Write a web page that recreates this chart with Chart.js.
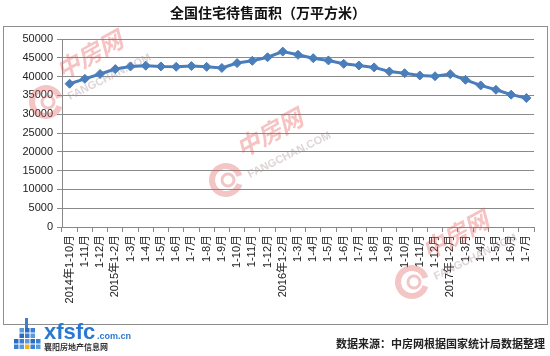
<!DOCTYPE html>
<html>
<head>
<meta charset="utf-8">
<script src="https://cdn.jsdelivr.net/npm/chart.js@4/dist/chart.umd.min.js"></script>
<style>
html,body{margin:0;padding:0;background:#fff;}
#wrap{position:relative;width:550px;height:356px;}
</style>
</head>
<body>
<div id="wrap"><canvas id="c" width="550" height="356"></canvas></div>
<script>
const TITLE = '全国住宅待售面积（万平方米）';
const SOURCE = '数据来源：中房网根据国家统计局数据整理';
const categories = [
  '2014年1-10月','1-11月','1-12月',
  '2015年1-2月','1-3月','1-4月','1-5月','1-6月','1-7月','1-8月','1-9月','1-10月','1-11月','1-12月',
  '2016年1-2月','1-3月','1-4月','1-5月','1-6月','1-7月','1-8月','1-9月','1-10月','1-11月','1-12月',
  '2017年1-2月','1-3月','1-4月','1-5月','1-6月','1-7月'
];
const unsoldArea = [
  38100, 39400, 40700,
  42000, 42700, 42900, 42700, 42600, 42800, 42600, 42300, 43600, 44200, 45150,
  46650, 45800, 44900, 44300, 43400, 42950, 42450, 41350, 40900, 40300, 40100,
  40650, 39150, 37650, 36500, 35200, 34300
];
const yMin = 0, yMax = 50000, yStep = 5000;

function watermark(ctx, cx, cy) {
  ctx.save();
  ctx.strokeStyle = 'rgba(222,90,90,0.35)';
  ctx.lineWidth = 6;
  ctx.beginPath(); ctx.arc(cx, cy, 14, 0.3, Math.PI * 2 - 0.3); ctx.stroke();
  ctx.lineWidth = 3;
  ctx.beginPath(); ctx.arc(cx + 2, cy, 6, 0, Math.PI * 2); ctx.stroke();
  ctx.translate(cx + 16, cy - 22);
  ctx.rotate(-0.5);
  ctx.fillStyle = 'rgba(228,70,70,0.33)';
  ctx.font = 'italic bold 24px "Noto Sans CJK SC"';
  ctx.textBaseline = 'alphabetic';
  ctx.fillText('中房网', 0, 0);
  ctx.restore();
  ctx.save();
  ctx.translate(cx + 24, cy - 2);
  ctx.rotate(-0.46);
  ctx.fillStyle = 'rgba(170,150,150,0.4)';
  ctx.font = 'bold 11px "Liberation Sans"';
  ctx.fillText('FANGCHAN.COM', 0, 0);
  ctx.restore();
}

const deco = {
  id: 'deco',
  beforeDraw(chart) {
    const c = chart.ctx;
    c.save();
    c.fillStyle = '#fff';
    c.fillRect(0, 0, chart.width, chart.height);
    c.strokeStyle = '#8e8e8e';
    c.lineWidth = 1;
    c.strokeRect(3.5, 26.5, 544, 298);
    c.fillStyle = '#111';
    c.font = 'bold 14px "Noto Sans CJK SC"';
    c.textAlign = 'center';
    c.textBaseline = 'middle';
    c.fillText(TITLE, 268, 13);
    c.font = 'bold 11px "Noto Sans CJK SC"';
    c.textAlign = 'right';
    c.fillStyle = '#222';
    c.fillText(SOURCE, 545, 344);
    const cols = ['#3b7fd4','#5a9be0','#2c6cc0'];
    for (let i = 0; i < 5; i++) {
      for (let j = 0; j < 4; j++) {
        if (j < 2 && (i === 0 || i === 4)) continue;
        c.fillStyle = (i === 2 && j === 3) ? '#f2b21b' : cols[(i + j) % 3];
        c.fillRect(14 + i * 5.5, 328 + j * 5.5, 4.5, 4.5);
      }
    }
    c.fillStyle = '#3b7fd4';
    c.fillRect(25, 318, 3, 10);
    c.textAlign = 'left';
    c.textBaseline = 'alphabetic';
    c.fillStyle = '#2a78d2';
    c.font = 'bold 22px "Liberation Sans"';
    c.fillText('xfsfc', 44, 339);
    c.font = 'bold 9px "Liberation Sans"';
    c.fillText('.com.cn', 97, 339);
    c.fillStyle = '#333';
    c.font = 'bold 8px "Noto Sans CJK SC"';
    c.fillText('襄阳房地产信息网', 44, 350);
    c.restore();
  },
  beforeDatasetsDraw(chart) {
    const c = chart.ctx;
    watermark(c, 46, 102);
    watermark(c, 226, 180);
    watermark(c, 412, 282);
  }
};

new Chart(document.getElementById('c'), {
  type: 'line',
  data: {
    labels: categories,
    datasets: [{
      data: unsoldArea,
      borderColor: '#4a7ebb',
      backgroundColor: '#4a7ebb',
      borderWidth: 3,
      pointStyle: 'rectRot',
      pointRadius: 4.5,
      pointBorderWidth: 1,
      pointBorderColor: '#4a7ebb',
      pointBackgroundColor: '#4a7ebb',
      tension: 0,
      fill: false
    }]
  },
  options: {
    responsive: false,
    animation: false,
    devicePixelRatio: 1,
    layout: { padding: { top: 39, right: 16, left: 0, bottom: 0 } },
    plugins: { legend: { display: false }, title: { display: false }, tooltip: { enabled: false } },
    scales: {
      x: {
        type: 'category',
        offset: true,
        afterFit(s) { s.height = 129; },
        grid: { display: true, drawOnChartArea: false, drawTicks: true, tickLength: 5, offset: true, color: '#888' },
        border: { display: true, color: '#888', width: 1 },
        ticks: {
          autoSkip: false, minRotation: 90, maxRotation: 90, padding: 3,
          color: '#222', font: { size: 11, family: '"Liberation Sans", "Noto Sans CJK SC"' }
        }
      },
      y: {
        min: yMin, max: yMax,
        afterFit(s) { s.width = 62; },
        grid: { color: '#8a8a8a', lineWidth: 1, drawTicks: true, tickLength: 5 },
        border: { display: true, color: '#888', width: 1 },
        ticks: {
          stepSize: yStep, padding: 4,
          callback: v => String(v),
          color: '#222', font: { size: 11, family: '"Liberation Sans"' }
        }
      }
    }
  },
  plugins: [deco]
});
</script>
</body>
</html>
